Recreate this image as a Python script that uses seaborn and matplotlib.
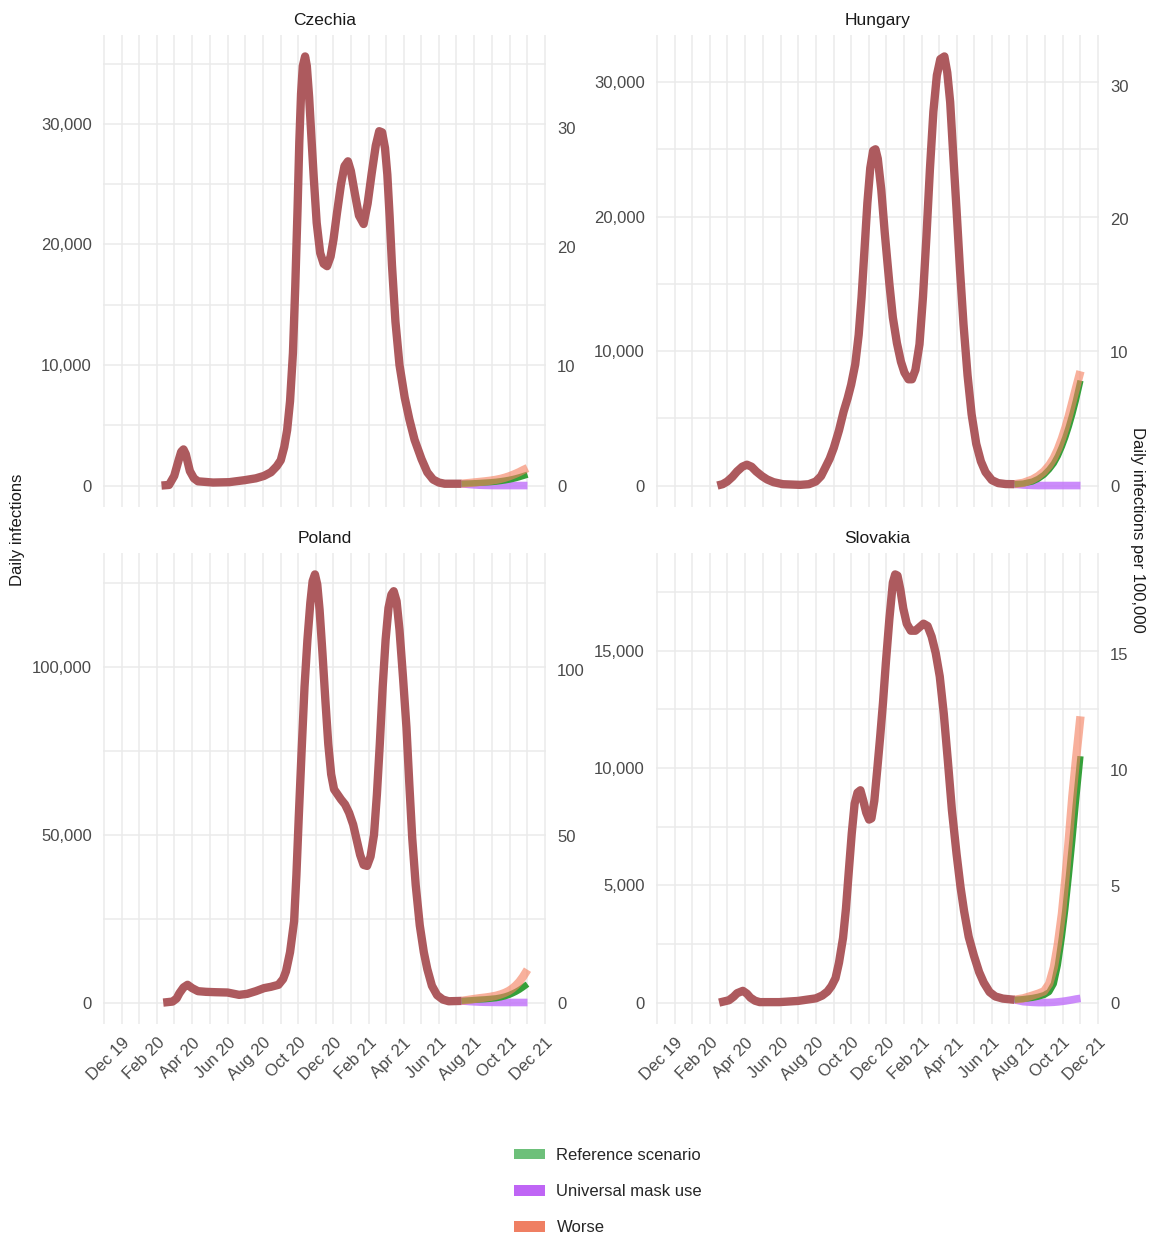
import pandas as pd
import matplotlib
matplotlib.use("Agg")
import matplotlib.pyplot as plt
from matplotlib.patches import Patch
from matplotlib.ticker import FuncFormatter
import seaborn as sns

# ---- data ----
countries = ["Czechia", "Hungary", "Poland", "Slovakia"]

czechia_hist_dates = ["2020-02-08", "2020-02-21", "2020-03-01", "2020-03-08", "2020-03-13", "2020-03-17",
                      "2020-03-21", "2020-03-28", "2020-04-04", "2020-04-11", "2020-05-07", "2020-06-04",
                      "2020-07-01", "2020-07-20", "2020-08-03", "2020-08-15", "2020-08-25", "2020-09-01",
                      "2020-09-07", "2020-09-12", "2020-09-17", "2020-09-22", "2020-09-26", "2020-09-30",
                      "2020-10-03", "2020-10-06", "2020-10-09", "2020-10-13", "2020-10-16", "2020-10-20",
                      "2020-10-24", "2020-10-28", "2020-11-02", "2020-11-08", "2020-11-14", "2020-11-20",
                      "2020-11-26", "2020-12-01", "2020-12-07", "2020-12-14", "2020-12-20", "2020-12-26",
                      "2020-12-31", "2021-01-07", "2021-01-14", "2021-01-22", "2021-01-29", "2021-02-05",
                      "2021-02-12", "2021-02-18", "2021-02-23", "2021-02-28", "2021-03-04", "2021-03-08",
                      "2021-03-12", "2021-03-18", "2021-03-25", "2021-04-03", "2021-04-11", "2021-04-20",
                      "2021-05-02", "2021-05-12", "2021-05-22", "2021-06-01", "2021-06-11", "2021-07-10"]
czechia_hist = [0, 50, 800, 2000, 2800, 3000, 2600, 1200, 600, 350, 250, 280,
                450, 600, 800, 1100, 1600, 2100,
                3200, 4600, 7000, 11000, 16500, 23000,
                28500, 32500, 34800, 35600, 34800, 32200,
                28800, 25500, 21800, 19300, 18400, 18200,
                19000, 20400, 22600, 25000, 26500, 26900,
                26100, 24200, 22400, 21700, 23400, 25900,
                28200, 29400, 29300, 28000, 25800, 22300,
                18300, 13600, 10000, 7300, 5500, 3800,
                2200, 1100, 500, 250, 150, 150]

hungary_hist_dates = ["2020-02-13", "2020-02-22", "2020-03-01", "2020-03-10", "2020-03-18", "2020-03-27",
                      "2020-04-04", "2020-04-12", "2020-04-20", "2020-04-30", "2020-05-09", "2020-05-20",
                      "2020-06-05", "2020-07-05", "2020-07-20", "2020-08-01", "2020-08-10", "2020-08-17",
                      "2020-08-25", "2020-09-01", "2020-09-10", "2020-09-18", "2020-09-25", "2020-10-01",
                      "2020-10-08", "2020-10-14", "2020-10-19", "2020-10-24", "2020-10-29", "2020-11-03",
                      "2020-11-08", "2020-11-12", "2020-11-16", "2020-11-22", "2020-11-28", "2020-12-06",
                      "2020-12-12", "2020-12-19", "2020-12-26", "2021-01-01", "2021-01-08", "2021-01-14",
                      "2021-01-20", "2021-01-27", "2021-02-02", "2021-02-08", "2021-02-14", "2021-02-20",
                      "2021-02-26", "2021-03-04", "2021-03-11", "2021-03-16", "2021-03-21", "2021-03-26",
                      "2021-04-01", "2021-04-07", "2021-04-13", "2021-04-20", "2021-04-27", "2021-05-05",
                      "2021-05-13", "2021-05-21", "2021-06-01", "2021-06-12", "2021-06-25", "2021-07-10"]
hungary_hist = [0, 100, 300, 650, 1050, 1400, 1550, 1400, 1050, 700, 450, 250,
                100, 50, 100, 300, 700, 1300, 2000, 2800, 4100, 5500, 6500, 7500,
                9000, 11200, 14000, 17500, 21000, 23600, 24900, 25000, 24300, 22000, 18800, 15000,
                12500, 10600, 9200, 8400, 7900, 7900, 8600, 10500, 14000, 18500, 23500, 27800,
                30500, 31700, 31900, 30700, 28500, 24800, 20500, 16000, 12000, 8200, 5300, 3100,
                1800, 1000, 400, 180, 110, 100]

poland_hist_dates = ["2020-02-11", "2020-02-27", "2020-03-05", "2020-03-10", "2020-03-17", "2020-03-24",
                     "2020-04-01", "2020-04-11", "2020-04-25", "2020-05-10", "2020-06-01", "2020-06-21",
                     "2020-07-05", "2020-07-20", "2020-08-03", "2020-08-15", "2020-08-28", "2020-09-05",
                     "2020-09-10", "2020-09-17", "2020-09-24", "2020-09-28", "2020-10-02", "2020-10-07",
                     "2020-10-12", "2020-10-17", "2020-10-22", "2020-10-26", "2020-10-30", "2020-11-03",
                     "2020-11-07", "2020-11-12", "2020-11-17", "2020-11-22", "2020-11-27", "2020-12-02",
                     "2020-12-08", "2020-12-14", "2020-12-21", "2020-12-28", "2021-01-04", "2021-01-10",
                     "2021-01-16", "2021-01-22", "2021-01-28", "2021-02-03", "2021-02-09", "2021-02-14",
                     "2021-02-19", "2021-02-24", "2021-03-01", "2021-03-06", "2021-03-11", "2021-03-15",
                     "2021-03-20", "2021-03-25", "2021-03-31", "2021-04-06", "2021-04-11", "2021-04-16",
                     "2021-04-22", "2021-04-29", "2021-05-06", "2021-05-12", "2021-05-20", "2021-05-29",
                     "2021-06-08", "2021-06-18", "2021-07-10"]
poland_hist = [0, 300, 1200, 2800, 4500, 5300, 4300, 3400, 3200, 3100, 3000, 2300,
               2600, 3400, 4300, 4700, 5300, 7000, 9300, 15000, 24200, 38000, 55000, 75000,
               94000, 108000, 119000, 125500, 127500, 124500, 117000, 104000, 90000, 77000, 68000, 63500,
               62000, 60500, 59000, 56500, 53000, 48500, 44000, 41000, 40700, 43500, 50000, 62000,
               77000, 94000, 108000, 117500, 121500, 122500, 119500, 111000, 97000, 82000, 65000, 49000,
               35000, 23000, 15000, 10000, 5000, 2200, 900, 400, 500]

slovakia_hist_dates = ["2020-02-16", "2020-03-04", "2020-03-12", "2020-03-18", "2020-03-28", "2020-04-04",
                       "2020-04-10", "2020-04-18", "2020-04-26", "2020-05-30", "2020-07-01", "2020-08-01",
                       "2020-08-12", "2020-08-21", "2020-08-28", "2020-09-04", "2020-09-10", "2020-09-17",
                       "2020-09-22", "2020-09-27", "2020-10-02", "2020-10-07", "2020-10-12", "2020-10-17",
                       "2020-10-22", "2020-10-27", "2020-11-01", "2020-11-05", "2020-11-10", "2020-11-15",
                       "2020-11-20", "2020-11-25", "2020-11-30", "2020-12-06", "2020-12-12", "2020-12-16",
                       "2020-12-20", "2020-12-25", "2020-12-30", "2021-01-05", "2021-01-12", "2021-01-20",
                       "2021-01-27", "2021-02-03", "2021-02-10", "2021-02-17", "2021-02-24", "2021-03-03",
                       "2021-03-10", "2021-03-17", "2021-03-24", "2021-04-01", "2021-04-08", "2021-04-14",
                       "2021-04-22", "2021-05-01", "2021-05-10", "2021-05-18", "2021-05-28", "2021-06-07",
                       "2021-06-20", "2021-07-10"]
slovakia_hist = [0, 100, 250, 400, 500, 380, 210, 80, 20, 20, 70, 180,
                 300, 470, 700, 1040, 1700, 2760, 4000, 5620, 7200, 8480, 8950, 9050,
                 8600, 8100, 7800, 7850, 8600, 9920, 11300, 12790, 14500, 16350, 17900, 18250,
                 18200, 17600, 16800, 16150, 15850, 15850, 16000, 16150, 16050, 15600, 14900, 13900,
                 12300, 10300, 8200, 6340, 4900, 3900, 2800, 2000, 1300, 850, 450, 260,
                 170, 120]

scenario_dates = ["2021-07-10", "2021-07-25", "2021-08-10", "2021-08-20", "2021-08-30", "2021-09-08",
                  "2021-09-16", "2021-09-23", "2021-09-30", "2021-10-06", "2021-10-12", "2021-10-18",
                  "2021-10-24", "2021-11-01"]
czechia_reference = [150, 180, 220, 250, 280, 320, 370, 420, 480, 540, 610, 690, 780, 900]
czechia_mask = [150, 80, 30, 15, 5, 0, 0, 0, 0, 0, 0, 0, 0, 0]
czechia_worse = [150, 220, 300, 350, 410, 480, 560, 650, 760, 870, 990, 1120, 1270, 1450]
hungary_reference = [100, 150, 300, 500, 800, 1200, 1650, 2200, 2900, 3600, 4400, 5300, 6300, 7800]
hungary_mask = [100, 40, 10, 0, 0, 0, 0, 0, 0, 0, 0, 0, 0, 0]
hungary_worse = [100, 200, 450, 700, 1050, 1500, 2050, 2700, 3500, 4300, 5200, 6200, 7200, 8500]
poland_reference = [500, 700, 900, 1000, 1150, 1300, 1550, 1850, 2250, 2700, 3200, 3800, 4500, 5500]
poland_mask = [500, 300, 150, 100, 70, 50, 40, 30, 30, 30, 30, 30, 30, 30]
poland_worse = [500, 900, 1300, 1500, 1750, 2050, 2450, 2900, 3500, 4200, 5100, 6200, 7600, 9800]
slovakia_reference = [120, 150, 200, 250, 320, 450, 800, 1600, 2800, 4000, 5400, 6900, 8500, 10500]
slovakia_mask = [120, 40, 10, 0, 0, 5, 15, 30, 50, 70, 95, 120, 150, 180]
slovakia_worse = [120, 180, 300, 380, 480, 800, 1500, 2500, 3800, 5300, 7000, 8800, 10300, 12200]

scenario_names = ["Reference scenario", "Universal mask use", "Worse"]

left_ticks = {"Czechia": [0, 10000, 20000, 30000], "Hungary": [0, 10000, 20000, 30000],
              "Poland": [0, 50000, 100000], "Slovakia": [0, 5000, 10000, 15000]}
right_ticks = {"Czechia": [0, 10, 20, 30], "Hungary": [0, 10, 20, 30],
               "Poland": [0, 50, 100], "Slovakia": [0, 5, 10, 15]}
RATE_DIV = 990  # daily infections -> per 100,000 (as drawn on the right axis)

history = {"Czechia": (czechia_hist_dates, czechia_hist), "Hungary": (hungary_hist_dates, hungary_hist),
           "Poland": (poland_hist_dates, poland_hist), "Slovakia": (slovakia_hist_dates, slovakia_hist)}
scenarios = {
    "Czechia": [czechia_reference, czechia_mask, czechia_worse],
    "Hungary": [hungary_reference, hungary_mask, hungary_worse],
    "Poland": [poland_reference, poland_mask, poland_worse],
    "Slovakia": [slovakia_reference, slovakia_mask, slovakia_worse],
}

# ---- styles ----
hist_color = "#AD5A5E"
line_styles = {
    "Reference scenario": dict(color="#35A03A", alpha=1.0, lw=4.5),
    "Universal mask use": dict(color="#C070FA", alpha=0.8, lw=5.5),
    "Worse": dict(color="#F4805F", alpha=0.62, lw=6.0),
}
legend_colors = {"Reference scenario": "#6DC07A", "Universal mask use": "#BF65F5", "Worse": "#EF7F63"}
draw_order = ["Universal mask use", "Reference scenario", "Worse"]

sns.set_theme(style="white")
plt.rcParams["font.family"] = ["Liberation Sans", "DejaVu Sans"]
plt.rcParams["font.size"] = 12

W, H = 1153, 1239
fig = plt.figure(figsize=(W / 100, H / 100), dpi=100)

# panel boxes in pixels: left, right, top, bottom
boxes = {"Czechia": (103, 546, 35, 507), "Hungary": (656, 1099, 35, 507),
         "Poland": (103, 546, 553, 1024), "Slovakia": (656, 1099, 553, 1024)}

grid_c = "#EBEBEB"
tick_c = "#4A4A4A"
xmin, xmax = pd.Timestamp("2019-10-30"), pd.Timestamp("2021-12-03")
months = pd.date_range("2019-11-01", "2021-12-01", freq="MS")
major_months = pd.date_range("2019-12-01", "2021-12-01", freq="2MS")

for name in countries:
    l, r, t, b = boxes[name]
    ax = fig.add_axes([l / W, 1 - b / H, (r - l) / W, (b - t) / H])

    hd, hv = history[name]
    sc_df = pd.DataFrame({"date": pd.to_datetime(scenario_dates * 3),
                          "value": sum(scenarios[name], []),
                          "scenario": [s for s in scenario_names for _ in scenario_dates]})
    for s in draw_order:
        st = line_styles[s]
        sns.lineplot(data=sc_df[sc_df["scenario"] == s], x="date", y="value", ax=ax,
                     color=st["color"], alpha=st["alpha"], lw=st["lw"],
                     solid_capstyle="butt", solid_joinstyle="round", legend=False)
    hist_df = pd.DataFrame({"date": pd.to_datetime(hd), "value": hv})
    sns.lineplot(data=hist_df, x="date", y="value", ax=ax, color=hist_color, lw=6.0,
                 solid_capstyle="butt", solid_joinstyle="round", legend=False)

    ax.set_xlim(xmin, xmax)
    ax.margins(y=0.05)
    ax.autoscale_view(scalex=False)

    # grid: monthly verticals, half-step horizontals
    for m in months:
        ax.axvline(m, color=grid_c, lw=1.1, zorder=0)
    step = left_ticks[name][1]
    lo, hi = ax.get_ylim()
    k = 0
    while k * step / 2 <= hi:
        ax.axhline(k * step / 2, color=grid_c, lw=1.1, zorder=0)
        k += 1
    ax.grid(False)

    ax.set_yticks(left_ticks[name])
    ax.yaxis.set_major_formatter(FuncFormatter(lambda v, p: f"{v:,.0f}"))
    ax.tick_params(axis="y", length=0, pad=8, labelsize=12, labelcolor=tick_c)

    ax.set_xticks(major_months)
    if name in ("Poland", "Slovakia"):
        ax.set_xticklabels([d.strftime("%b %y") for d in major_months], rotation=45,
                           ha="right", va="top", rotation_mode="anchor")
        ax.tick_params(axis="x", length=0, pad=8, labelsize=12, labelcolor=tick_c)
    else:
        ax.set_xticklabels([])
        ax.tick_params(axis="x", length=0)
    ax.set_xlabel("")
    ax.set_ylabel("")
    for sp in ax.spines.values():
        sp.set_visible(False)
    ax.set_title(name, fontsize=12.5, pad=7, color="#1A1A1A")

    sec = ax.secondary_yaxis("right", functions=(lambda v: v / RATE_DIV, lambda v: v * RATE_DIV))
    sec.set_yticks(right_ticks[name])
    sec.tick_params(length=0, pad=8, labelsize=12, labelcolor=tick_c)
    for sp in sec.spines.values():
        sp.set_visible(False)

fig.text(18 / W, 1 - 530 / H, "Daily infections", rotation=90, ha="center", va="center",
         fontsize=12, color="#1A1A1A")
fig.text(1138 / W, 1 - 530 / H, "Daily infections per 100,000", rotation=270, ha="center",
         va="center", fontsize=12, color="#1A1A1A")

handles = [Patch(facecolor=legend_colors[s], edgecolor="none", label=s) for s in scenario_names]
fig.legend(handles=handles, loc="upper left", bbox_to_anchor=(514 / W, 1 - 1148 / H),
           frameon=False, fontsize=12, handlelength=1.85, handleheight=0.6,
           handletextpad=0.7, labelspacing=1.27, borderpad=0, borderaxespad=0)

fig.savefig("out.png", dpi=100)
